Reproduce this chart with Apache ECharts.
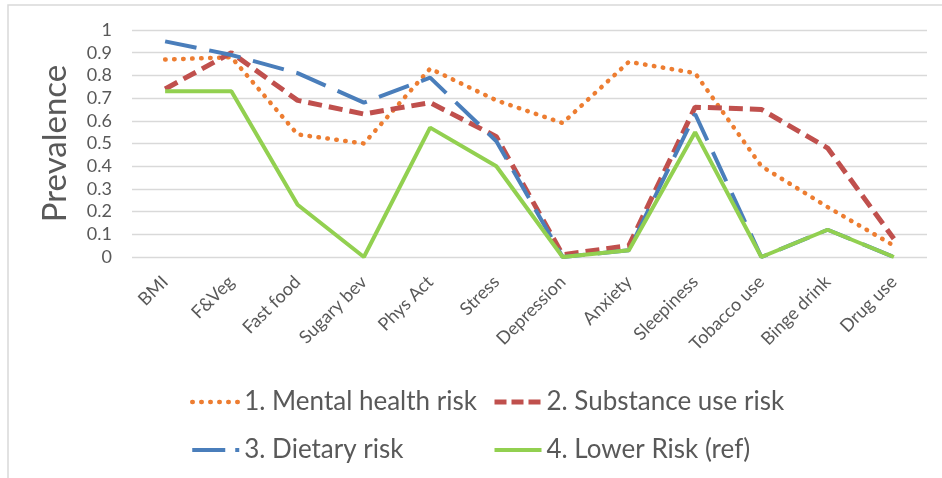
<!DOCTYPE html>
<html>
<head>
<meta charset="utf-8">
<script src="https://cdn.jsdelivr.net/npm/echarts@6/dist/echarts.min.js"></script>
<style>
html,body{margin:0;padding:0;background:#fff;}
#c{width:942px;height:478px;}
</style>
</head>
<body>
<div id="c"></div>
<script>
const categories = ["BMI","F&Veg","Fast food","Sugary bev","Phys Act","Stress","Depression","Anxiety","Sleepiness","Tobacco use","Binge drink","Drug use"];
const mentalHealth = [0.87,0.88,0.54,0.50,0.83,0.69,0.59,0.86,0.81,0.40,0.22,0.05];
const substanceUse = [0.74,0.90,0.69,0.63,0.68,0.53,0.01,0.05,0.66,0.65,0.48,0.08];
const dietary      = [0.95,0.89,0.81,0.68,0.79,0.51,0.00,0.03,0.63,0.00,0.12,0.00];
const lowerRisk    = [0.73,0.73,0.23,0.00,0.57,0.40,0.00,0.03,0.55,0.00,0.12,0.00];
const seriesNames = ["1. Mental health risk","2. Substance use risk","3. Dietary risk","4. Lower Risk (ref)"];
const yTicks = [0,0.1,0.2,0.3,0.4,0.5,0.6,0.7,0.8,0.9,1];

const FONT = "Lato";
const colors = ['#ED7D31','#C0504D','#4A7EBB','#92D050'];
const widths = [4.5, 5, 4, 4];
const chartDash = [[0.5,8.5], [14,7], [32,13], 'solid'];
const legendDash = [[0.5,8.5], [12,5], [33,10,4,10], 'solid'];
const caps = ['round','butt','butt','butt'];
const chart = echarts.init(document.getElementById('c'), null, {renderer:'canvas'});
const mk = (i, data) => ({
  name:seriesNames[i], type:'line', data, symbol:'none', showSymbol:false, smooth:false,
  lineStyle:{color:colors[i], width:widths[i], type:chartDash[i], cap:caps[i]},
  itemStyle:{color:colors[i]}, emphasis:{disabled:true}
});
const legItem = i => ({name:seriesNames[i], lineStyle:{width:widths[i], type:legendDash[i], cap:caps[i]}});
const legendCommon = {orient:'vertical', top:384, itemGap:22, itemWidth:47, itemHeight:26, itemTextGap:11,
  itemStyle:{opacity:0}, textStyle:{color:'#595959', fontSize:26, fontFamily:FONT}};
chart.setOption({
  animation:false,
  backgroundColor:'#fff',
  textStyle:{fontFamily:FONT},
  graphic:[{type:'rect', shape:{x:8,y:5,width:960,height:500}, style:{fill:'none',stroke:'#d9d9d9',lineWidth:1.5}, silent:true}],
  grid:{left:132,right:15,top:30,bottom:221,containLabel:false},
  xAxis:{type:'category', data:categories, boundaryGap:true,
    axisLine:{show:false}, axisTick:{show:false},
    axisLabel:{rotate:45, interval:0, color:'#595959', fontSize:18, fontFamily:FONT, margin:22}},
  yAxis:{type:'value', min:0, max:1, interval:0.1,
    name:'Prevalence', nameLocation:'middle', nameGap:60, nameRotate:90,
    nameTextStyle:{color:'#595959', fontSize:33, fontFamily:FONT},
    axisLine:{show:false}, axisTick:{show:false},
    splitLine:{lineStyle:{color:'#d9d9d9', width:1.3}},
    axisLabel:{color:'#595959', fontSize:18, fontFamily:FONT, margin:20,
      formatter:v=>{const t=yTicks.find(x=>Math.abs(x-v)<1e-6); return t===undefined?'':String(t);}}},
  legend:[
    Object.assign({left:185, data:[legItem(0),legItem(2)]}, legendCommon),
    Object.assign({left:487, data:[legItem(1),legItem(3)]}, legendCommon)
  ],
  series:[
    mk(0, mentalHealth),
    mk(1, substanceUse),
    mk(2, dietary),
    mk(3, lowerRisk)
  ]
});
</script>
</body>
</html>
